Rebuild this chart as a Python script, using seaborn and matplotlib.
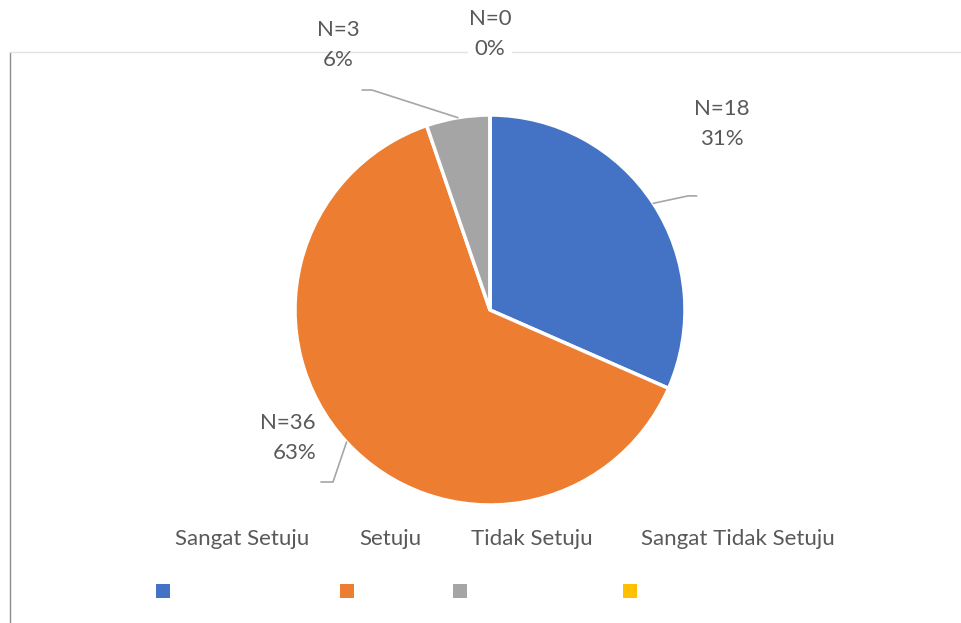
import matplotlib
matplotlib.use("Agg")
import matplotlib.pyplot as plt
from matplotlib.lines import Line2D
from matplotlib.patches import Rectangle
import numpy as np
import seaborn as sns

# Survey responses
categories = ["Sangat Setuju", "Setuju", "Tidak Setuju", "Sangat Tidak Setuju"]
counts = [18, 36, 3, 0]
percent_labels = ["31%", "63%", "6%", "0%"]
colors = ["#4472C4", "#ED7D31", "#A5A5A5", "#FFC000"]

sns.set_theme(style="white")
plt.rcParams["font.family"] = ["Lato", "DejaVu Sans"]
text_color = "#595959"
font_size = 16

W, H = 961, 623
fig = plt.figure(figsize=(W / 100, H / 100), dpi=100)
fig.patch.set_facecolor("white")

# Pie axes: centre (490, 310) px, radius 195 px
cx, cy, r = 490, 310, 195
ax = fig.add_axes([(cx - r) / W, (H - cy - r) / H, 2 * r / W, 2 * r / H])
ax.set_zorder(3)
wedges, _ = ax.pie(counts, colors=colors, startangle=90, counterclock=False,
                   radius=1.0, wedgeprops=dict(edgecolor="white", linewidth=2.5))
ax.set_xlim(-1, 1)
ax.set_ylim(-1, 1)
ax.set_aspect("equal")
ax.axis("off")

# Data labels: (text x, text y, ha, leader elbow, leader end, opaque box) in pie units
label_specs = [
    (1.19, 0.955, "center", (1.015, 0.585), (1.06, 0.585), False),
    (-0.892, -0.655, "right", (-0.805, -0.882), (-0.867, -0.882), False),
    (-0.78, 1.36, "center", (-0.605, 1.128), (-0.656, 1.128), False),
    (0.0, 1.415, "center", None, None, True),
]
for w, n, pct, (tx, ty, ha, elbow, end, boxed) in zip(wedges, counts, percent_labels, label_specs):
    box = dict(facecolor="white", edgecolor="none", pad=0.5) if boxed else None
    ax.text(tx, ty, f"N={n}\n{pct}", ha=ha, va="center", fontsize=font_size,
            color=text_color, linespacing=1.6, clip_on=False, bbox=box)
    if elbow is not None:
        mid = np.deg2rad((w.theta1 + w.theta2) / 2)
        start = (np.cos(mid), np.sin(mid))
        ax.add_line(Line2D([start[0], elbow[0], end[0]], [start[1], elbow[1], end[1]],
                           color="#a6a6a6", lw=1.2, clip_on=False))

# Chart frame lines
fig.add_artist(Line2D([9.5 / W, 9.5 / W], [0, 1 - 52 / H], color="#8c8c8c", lw=1.0))
fig.add_artist(Line2D([10 / W, 1.0], [1 - 52 / H, 1 - 52 / H], color="#e3e3e3", lw=1.0))

# Legend: names on one row, colour keys on the row below
name_x = [242, 390, 532, 738]
key_x = [156, 340, 453, 623]
for name, nx, kx, c in zip(categories, name_x, key_x, colors):
    fig.text(nx / W, 1 - 539 / H, name, ha="center", va="center",
             fontsize=font_size, color=text_color)
    fig.add_artist(Rectangle((kx / W, 1 - 598 / H), 14 / W, 14 / H,
                             facecolor=c, edgecolor="none", transform=fig.transFigure))

fig.savefig("out.png", dpi=100)
